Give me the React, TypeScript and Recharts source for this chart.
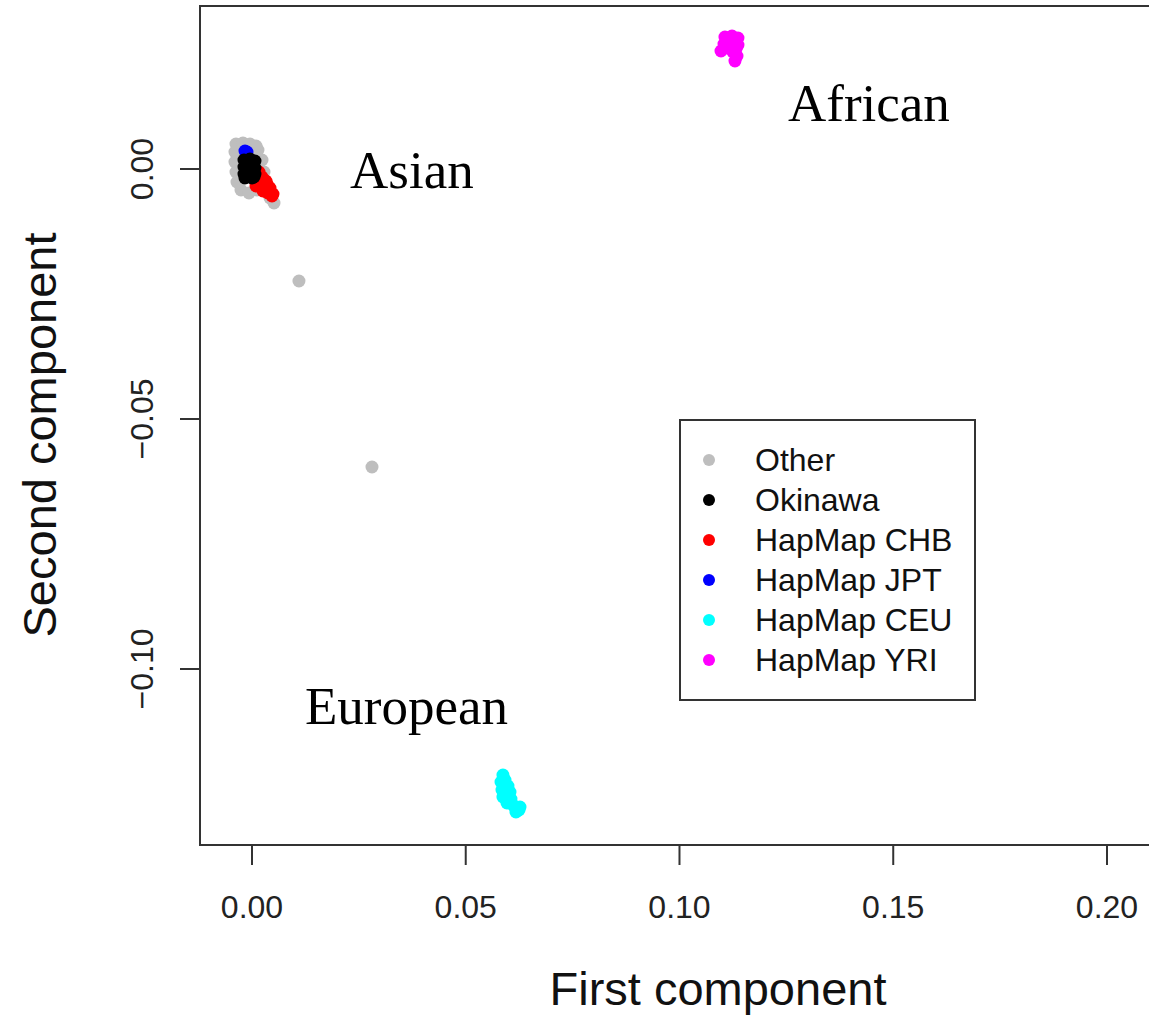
import React from "react";
import { ReferenceArea, Scatter, ScatterChart, XAxis, YAxis } from "recharts";

type Pt = { x: number; y: number };

// principal component scores
const other: Pt[] = [
  { x: -0.00374, y: 0.005 }, { x: -0.00211, y: 0.0052 }, { x: -0.00047, y: 0.005 },
  { x: -0.00398, y: 0.0034 }, { x: -0.00398, y: 0.0014 }, { x: -0.00374, y: -0.0006 },
  { x: -0.00351, y: -0.0026 }, { x: -0.00257, y: -0.0042 }, { x: -0.0007, y: -0.0048 },
  { x: 0.00117, y: -0.0042 }, { x: 0.00257, y: -0.003 }, { x: 0.00281, y: -0.0006 },
  { x: 0.00234, y: 0.0018 }, { x: 0.0014, y: 0.0038 }, { x: 0.00094, y: 0.0046 },
  { x: 0.00515, y: -0.0068 }, { x: 0.00421, y: -0.0058 },
  { x: 0.01099, y: -0.0224 }, { x: 0.02807, y: -0.0596 },
];
const chb: Pt[] = [
  { x: 0.00164, y: -0.0006 }, { x: 0.00234, y: -0.0016 }, { x: 0.00327, y: -0.0024 },
  { x: 0.00187, y: -0.003 }, { x: 0.00304, y: -0.0036 }, { x: 0.00421, y: -0.0038 },
  { x: 0.00374, y: -0.0048 }, { x: 0.00491, y: -0.005 }, { x: 0.00257, y: -0.0044 },
  { x: 0.00468, y: -0.0054 }, { x: 0.00094, y: -0.0034 }, { x: 0.0021, y: -0.0026 },
  { x: 0.00351, y: -0.003 }, { x: 0.0042, y: -0.0046 },
];
const jpt: Pt[] = [
  { x: -0.00164, y: 0.0036 }, { x: -0.00117, y: 0.0034 },
];
const okinawa: Pt[] = [
  { x: -0.00187, y: 0.0018 }, { x: -0.00047, y: 0.002 }, { x: 0.0007, y: 0.0016 },
  { x: -0.00187, y: 0.0004 }, { x: -0.00047, y: 0.0004 }, { x: 0.0007, y: 0.0002 },
  { x: -0.00187, y: -0.001 }, { x: -0.00047, y: -0.001 }, { x: 0.0007, y: -0.001 },
  { x: -0.00164, y: -0.0018 }, { x: 0.0, y: -0.0018 }, { x: -0.00094, y: 0.0012 },
  { x: 0.0, y: -0.0004 }, { x: -0.00117, y: -0.0004 }, { x: 0.00023, y: 0.001 },
  { x: -0.00117, y: -0.0014 }, { x: 0.00047, y: -0.0016 },
];
const ceu: Pt[] = [
  { x: 0.05871, y: -0.1212 }, { x: 0.05825, y: -0.1226 }, { x: 0.05988, y: -0.1234 },
  { x: 0.05848, y: -0.1242 }, { x: 0.06035, y: -0.1246 }, { x: 0.05871, y: -0.1256 },
  { x: 0.06058, y: -0.126 }, { x: 0.05965, y: -0.1268 }, { x: 0.06129, y: -0.1274 },
  { x: 0.06246, y: -0.1282 }, { x: 0.06175, y: -0.1286 }, { x: 0.06269, y: -0.1276 },
  { x: 0.05918, y: -0.1222 }, { x: 0.05941, y: -0.125 }, { x: 0.05988, y: -0.1262 },
  { x: 0.06082, y: -0.127 }, { x: 0.06199, y: -0.1278 }, { x: 0.05895, y: -0.1236 },
];
const yri: Pt[] = [
  { x: 0.11064, y: 0.0264 }, { x: 0.11228, y: 0.0266 }, { x: 0.11368, y: 0.0262 },
  { x: 0.11368, y: 0.0248 }, { x: 0.11205, y: 0.025 }, { x: 0.11041, y: 0.025 },
  { x: 0.10971, y: 0.0236 }, { x: 0.11251, y: 0.0234 }, { x: 0.11345, y: 0.0226 },
  { x: 0.11298, y: 0.0216 }, { x: 0.11111, y: 0.0258 }, { x: 0.11158, y: 0.0242 },
  { x: 0.11298, y: 0.0256 }, { x: 0.11087, y: 0.0242 }, { x: 0.11322, y: 0.024 },
];

const xTicks = [0, 0.05, 0.1, 0.15, 0.2];
const yTicks = [0, -0.05, -0.1];
const X_DOMAIN = [-0.01216, 0.23018];
const Y_DOMAIN = [-0.1352, 0.0326];

const groups = [
  { name: "Other", color: "#bebebe", data: other },
  { name: "HapMap CHB", color: "#ff0000", data: chb },
  { name: "HapMap JPT", color: "#0000ff", data: jpt },
  { name: "Okinawa", color: "#000000", data: okinawa },
  { name: "HapMap CEU", color: "#00ffff", data: ceu },
  { name: "HapMap YRI", color: "#ff00ff", data: yri },
];
const legendOrder = ["Other", "Okinawa", "HapMap CHB", "HapMap JPT", "HapMap CEU", "HapMap YRI"];

const sans = "'Liberation Sans', Arial, sans-serif";
const serif = "'Liberation Serif', 'Times New Roman', serif";

const fmt = (v: number) => (v < 0 ? "\u2212" : "") + Math.abs(v).toFixed(2);

function XTick({ x, y, payload }: any) {
  return (
    <text x={x} y={y + 51} textAnchor="middle" fontSize={32} fill="#222" fontFamily={sans}>
      {fmt(payload.value)}
    </text>
  );
}

function YTick({ x, y, payload }: any) {
  const bx = x - 25;
  return (
    <text x={bx} y={y} transform={`rotate(-90 ${bx} ${y})`} textAnchor="middle" fontSize={32} fill="#222" fontFamily={sans}>
      {fmt(payload.value)}
    </text>
  );
}

function LegendBox() {
  return (
    <div style={{ position: "absolute", left: 679, top: 419, width: 293, height: 278, border: "2px solid #333", background: "#fff", fontFamily: sans }}>
      {legendOrder.map((n, i) => {
        const g = groups.find((d) => d.name === n)!;
        return (
          <div key={n} style={{ position: "absolute", left: 0, top: 19 + i * 40, height: 40, width: 290 }}>
            <span style={{ position: "absolute", left: 22, top: 14, width: 12, height: 12, borderRadius: 6, background: g.color }} />
            <span style={{ position: "absolute", left: 74, top: 0, fontSize: 32, color: "#111", whiteSpace: "nowrap", lineHeight: "40px" }}>{n}</span>
          </div>
        );
      })}
    </div>
  );
}

export default function App() {
  return (
    <div style={{ position: "absolute", left: 0, top: 0, width: 1149, height: 1017, overflow: "hidden", background: "#fff" }}>
      <ScatterChart width={1260} height={1017} margin={{ top: 6, right: 24, bottom: 0, left: 0 }}>
        <XAxis
          type="number"
          dataKey="x"
          domain={X_DOMAIN}
          ticks={xTicks}
          interval={0}
          allowDataOverflow
          height={172}
          tickSize={20}
          axisLine={false}
          tickLine={{ stroke: "#333", strokeWidth: 2 }}
          tick={<XTick />}
        />
        <YAxis
          type="number"
          dataKey="y"
          domain={Y_DOMAIN}
          ticks={yTicks}
          interval={0}
          allowDataOverflow
          width={200}
          tickSize={20}
          axisLine={false}
          tickLine={{ stroke: "#333", strokeWidth: 2 }}
          tick={<YTick />}
        />
        <ReferenceArea
          x1={X_DOMAIN[0]}
          x2={X_DOMAIN[1]}
          y1={Y_DOMAIN[0]}
          y2={Y_DOMAIN[1]}
          fill="none"
          fillOpacity={0}
          stroke="#333"
          strokeWidth={2}
          ifOverflow="visible"
        />
        {groups.map((g) => (
          <Scatter
            key={g.name}
            name={g.name}
            data={g.data}
            fill={g.color}
            isAnimationActive={false}
            shape={(p: any) => <circle cx={p.cx} cy={p.cy} r={6.5} fill={g.color} />}
          />
        ))}
      </ScatterChart>
      <LegendBox />
      <svg width={1149} height={1017} style={{ position: "absolute", left: 0, top: 0, pointerEvents: "none" }}>
        <text x={788} y={121} fontSize={53} fontFamily={serif} fill="#000">African</text>
        <text x={350} y={188} fontSize={53} fontFamily={serif} fill="#000">Asian</text>
        <text x={305} y={724} fontSize={53} fontFamily={serif} fill="#000">European</text>
        <text x={718} y={1005} textAnchor="middle" fontSize={47} fontFamily={sans} fill="#111">First component</text>
        <text x={56} y={435} transform="rotate(-90 56 435)" textAnchor="middle" fontSize={47} fontFamily={sans} fill="#111">Second component</text>
      </svg>
    </div>
  );
}
